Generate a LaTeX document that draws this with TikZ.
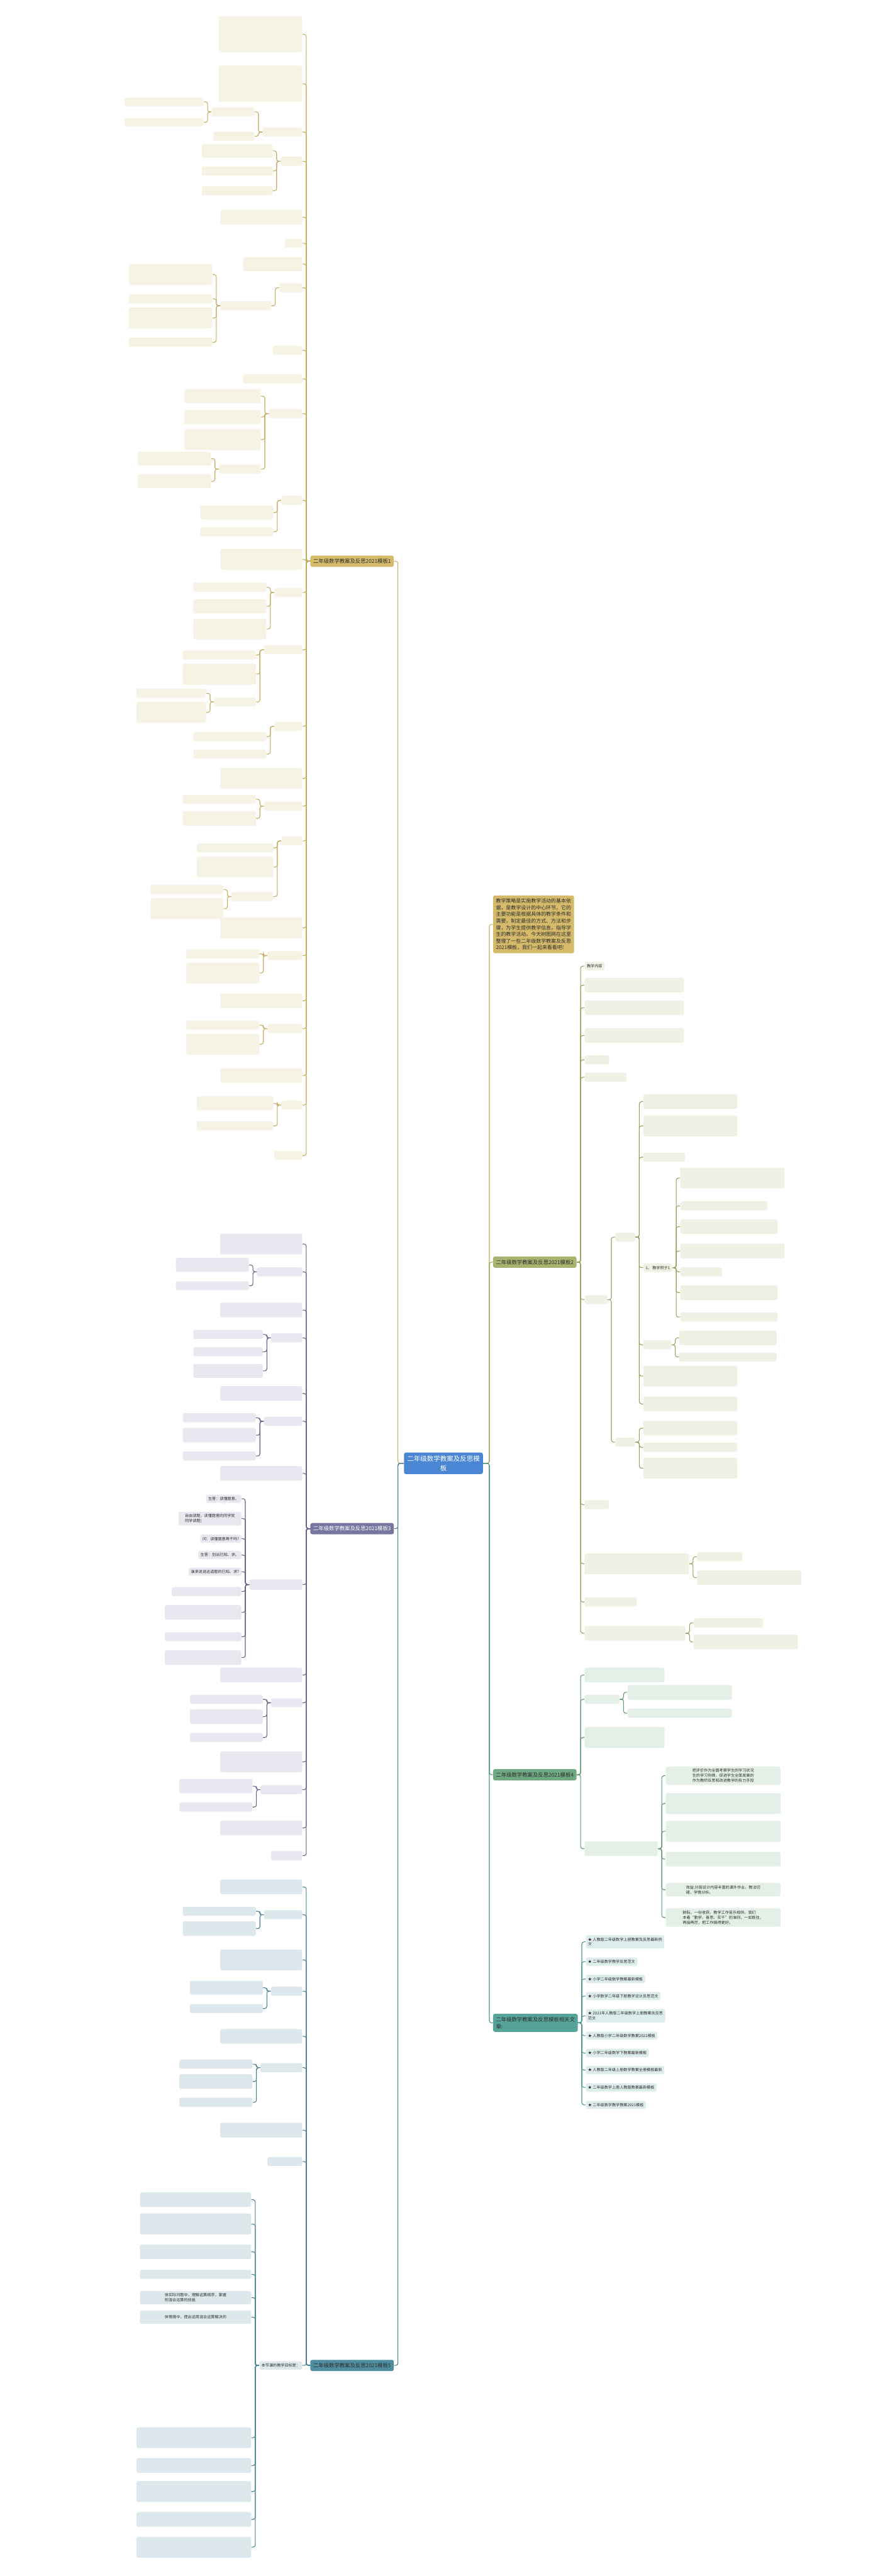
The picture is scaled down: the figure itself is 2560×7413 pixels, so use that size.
\documentclass[tikz,border=0pt]{standalone}
\usepackage{fontspec}
\setmainfont{Noto Sans CJK SC}
\XeTeXlinebreaklocale "zh"
\XeTeXlinebreakskip = 0pt plus 1pt
\definecolor{centre}{RGB}{74,134,212}
\definecolor{gold}{RGB}{212,186,106}
\definecolor{goldline}{RGB}{196,170,92}
\definecolor{goldleaf}{RGB}{247,243,228}
\definecolor{olive}{RGB}{169,178,110}
\definecolor{oliveline}{RGB}{150,160,92}
\definecolor{oliveleaf}{RGB}{239,241,228}
\definecolor{purp}{RGB}{118,118,160}
\definecolor{purpline}{RGB}{96,96,136}
\definecolor{purpleaf}{RGB}{232,232,240}
\definecolor{green4}{RGB}{111,168,131}
\definecolor{greenline}{RGB}{92,150,112}
\definecolor{greenleaf}{RGB}{227,239,231}
\definecolor{teal6}{RGB}{86,163,154}
\definecolor{tealline}{RGB}{72,150,140}
\definecolor{tealleaf}{RGB}{221,237,235}
\definecolor{blue5}{RGB}{79,142,160}
\definecolor{blueline}{RGB}{70,127,144}
\definecolor{blueleaf}{RGB}{221,232,236}
\definecolor{ink}{RGB}{45,45,45}
\tikzset{
  centrebox/.style={fill=centre, text=white, rounded corners=1.6pt, align=center,
    inner sep=2.6pt, font=\fontsize{5.4}{7.4}\selectfont},
  mainbox/.style={fill=#1, text=ink, rounded corners=1.6pt, inner xsep=2.4pt, inner ysep=2.6pt,
    align=left, font=\fontsize{4.3}{5.6}\selectfont},
  leaf/.style={fill=#1, text=ink, rounded corners=1.4pt, inner xsep=1.8pt, inner ysep=1.9pt,
    align=left, font=\fontsize{3.15}{4.1}\selectfont},
  link/.style={draw=#1, line width=0.55pt, rounded corners=1.8pt},
}
% boxes hung on the left / right of a parent: name, parent, colour, y, width, height
\newcommand\boxL[6]{%
  \node[leaf=#3leaf, anchor=east, xshift=-0.22cm, minimum width=#5*0.01cm, minimum height=#6*0.01cm] (#1) at (#2.west |- 0,#4) {};
  \draw[link=#3line] (#2.west) -- ++(-11,0) |- (#1.east);}
\newcommand\boxR[6]{%
  \node[leaf=#3leaf, anchor=west, xshift=0.22cm, minimum width=#5*0.01cm, minimum height=#6*0.01cm] (#1) at (#2.east |- 0,#4) {};
  \draw[link=#3line] (#2.east) -- ++(11,0) |- (#1.west);}
% the same with a text: [options], name, parent, colour, y, text
\newcommand\textL[6][]{%
  \node[leaf=#4leaf, anchor=east, xshift=-0.22cm, #1] (#2) at (#3.west |- 0,#5) {#6};
  \draw[link=#4line] (#3.west) -- ++(-11,0) |- (#2.east);}
\newcommand\textR[6][]{%
  \node[leaf=#4leaf, anchor=west, xshift=0.22cm, #1] (#2) at (#3.east |- 0,#5) {#6};
  \draw[link=#4line] (#3.east) -- ++(11,0) |- (#2.west);}
\begin{document}
\begin{tikzpicture}[x=0.01cm, y=-0.01cm]
  \fill[white] (0,0) rectangle (2560,7413);
  \useasboundingbox (0,0) rectangle (2560,7413);

  % centre
  \node[centrebox] (root) at (1276,4211) {二年级数学教案及反思模\\板};

  % left branches
  \node[mainbox=gold, anchor=east] (b1) at (1134,1615) {二年级数学教案及反思2021模板1};
  \node[mainbox=purp, text=white, anchor=east] (b3) at (1134,4399) {二年级数学教案及反思2021模板3};
  \node[mainbox=blue5, anchor=east] (b5) at (1134,6807) {二年级数学教案及反思2021模板5};
  \draw[link=goldline] (root.west) -- (1145,4211) |- (b1.east);
  \draw[link=purpline] (root.west) -- (1145,4211) |- (b3.east);
  \draw[link=blueline] (root.west) -- (1145,4211) |- (b5.east);

  % right branches
  \node[mainbox=gold, anchor=west, font=\fontsize{4.1}{5.45}\selectfont] (intro) at (1418,2660)
    {教学策略是实施教学活动的基本依\\据，是教学设计的中心环节。它的\\主要功能是根据具体的教学条件和\\需要，制定最佳的方式、方法和步\\骤，为学生提供教学信息，指导学\\生的教学活动。今天树图网在这里\\整理了一些二年级数学教案及反思\\2021模板，我们一起来看看吧!};
  \node[mainbox=olive, anchor=west] (b2) at (1418,3632) {二年级数学教案及反思2021模板2};
  \node[mainbox=green4, anchor=west] (b4) at (1418,5107) {二年级数学教案及反思2021模板4};
  \node[mainbox=teal6, anchor=west] (rel) at (1418,5821) {二年级数学教案及反思模板相关文\\章:};
  \draw[link=goldline] (root.east) -- (1408,4211) |- (intro.west);
  \draw[link=oliveline] (root.east) -- (1408,4211) |- (b2.west);
  \draw[link=greenline] (root.east) -- (1408,4211) |- (b4.west);
  \draw[link=tealline] (root.east) -- (1408,4211) |- (rel.west);

  % template 1
  \boxL{ga1}{b1}{gold}{99}{240}{104}
  \boxL{ga2}{b1}{gold}{241}{240}{104}
  \boxL{ga3}{b1}{gold}{380}{114}{26}
  \boxL{ga3a}{ga3}{gold}{322}{123}{26}
  \boxL{ga3a1}{ga3a}{gold}{293}{227}{24}
  \boxL{ga3a2}{ga3a}{gold}{352}{227}{24}
  \boxL{ga3b}{ga3}{gold}{392}{118}{26}
  \boxL{ga4}{b1}{gold}{464}{62}{26}
  \foreach \y/\w/\h [count=\k] in {434/203/40, 492/203/26, 549/203/26}{\boxL{ga4-\k}{ga4}{gold}{\y}{\w}{\h}}
  \boxL{ga5}{b1}{gold}{625}{236}{42}
  \boxL{ga6}{b1}{gold}{700}{50}{26}
  \boxL{ga7}{b1}{gold}{760}{170}{40}
  \boxL{ga8}{b1}{gold}{828}{66}{26}
  \boxL{ga8a}{ga8}{gold}{880}{146}{26}
  \foreach \y/\w/\h [count=\k] in {790/240/60, 860/240/26, 915/240/60, 985/240/26}{\boxL{ga8a-\k}{ga8a}{gold}{\y}{\w}{\h}}
  \boxL{ga9}{b1}{gold}{1008}{84}{26}
  \boxL{ga10}{b1}{gold}{1090}{170}{26}
  \boxL{ga11}{b1}{gold}{1190}{96}{26}
  \foreach \y/\w/\h [count=\k] in {1140/220/40, 1200/220/40, 1265/220/60}{\boxL{ga11-\k}{ga11}{gold}{\y}{\w}{\h}}
  \boxL{ga11d}{ga11}{gold}{1350}{120}{26}
  \foreach \y/\w/\h [count=\k] in {1320/210/40, 1385/210/40}{\boxL{ga11d-\k}{ga11d}{gold}{\y}{\w}{\h}}
  \boxL{ga12}{b1}{gold}{1440}{60}{26}
  \foreach \y/\w/\h [count=\k] in {1475/210/40, 1530/210/26}{\boxL{ga12-\k}{ga12}{gold}{\y}{\w}{\h}}
  \boxL{ga13}{b1}{gold}{1610}{236}{60}
  \boxL{ga14}{b1}{gold}{1705}{80}{26}
  \foreach \y/\w/\h [count=\k] in {1690/210/26, 1745/210/40, 1810/210/60}{\boxL{ga14-\k}{ga14}{gold}{\y}{\w}{\h}}
  \boxL{ga15}{b1}{gold}{1870}{110}{26}
  \foreach \y/\w/\h [count=\k] in {1885/210/26, 1940/210/60}{\boxL{ga15-\k}{ga15}{gold}{\y}{\w}{\h}}
  \boxL{ga15c}{ga15}{gold}{2020}{120}{26}
  \foreach \y/\w/\h [count=\k] in {1995/200/26, 2050/200/60}{\boxL{ga15c-\k}{ga15c}{gold}{\y}{\w}{\h}}
  \boxL{ga16}{b1}{gold}{2090}{80}{26}
  \foreach \y/\w/\h [count=\k] in {2120/210/26, 2170/210/26}{\boxL{ga16-\k}{ga16}{gold}{\y}{\w}{\h}}
  \boxL{ga17}{b1}{gold}{2240}{236}{60}
  \boxL{ga18}{b1}{gold}{2320}{110}{26}
  \foreach \y/\w/\h [count=\k] in {2300/210/26, 2355/210/42}{\boxL{ga18-\k}{ga18}{gold}{\y}{\w}{\h}}
  \boxL{ga19}{b1}{gold}{2420}{60}{26}
  \foreach \y/\w/\h [count=\k] in {2440/220/26, 2495/220/60}{\boxL{ga19-\k}{ga19}{gold}{\y}{\w}{\h}}
  \boxL{ga19c}{ga19}{gold}{2580}{120}{26}
  \foreach \y/\w/\h [count=\k] in {2560/210/26, 2615/210/60}{\boxL{ga19c-\k}{ga19c}{gold}{\y}{\w}{\h}}
  \boxL{ga20}{b1}{gold}{2670}{236}{60}
  \boxL{ga21}{b1}{gold}{2750}{100}{26}
  \foreach \y/\w/\h [count=\k] in {2745/210/26, 2800/210/60}{\boxL{ga21-\k}{ga21}{gold}{\y}{\w}{\h}}
  \boxL{ga22}{b1}{gold}{2880}{236}{42}
  \boxL{ga23}{b1}{gold}{2960}{100}{26}
  \foreach \y/\w/\h [count=\k] in {2950/210/26, 3005/210/60}{\boxL{ga23-\k}{ga23}{gold}{\y}{\w}{\h}}
  \boxL{ga24}{b1}{gold}{3095}{236}{42}
  \boxL{ga25}{b1}{gold}{3180}{60}{26}
  \foreach \y/\w/\h [count=\k] in {3175/220/40, 3240/220/26}{\boxL{ga25-\k}{ga25}{gold}{\y}{\w}{\h}}
  \boxL{ga26}{b1}{gold}{3325}{80}{26}

  % template 3
  \boxL{pa1}{b3}{purp}{3580}{236}{60}
  \boxL{pa2}{b3}{purp}{3660}{130}{26}
  \foreach \y/\w/\h [count=\k] in {3640/210/40, 3700/210/26}{\boxL{pa2-\k}{pa2}{purp}{\y}{\w}{\h}}
  \boxL{pa3}{b3}{purp}{3770}{236}{42}
  \boxL{pa4}{b3}{purp}{3850}{90}{26}
  \foreach \y/\w/\h [count=\k] in {3840/200/26, 3890/200/26, 3945/200/40}{\boxL{pa4-\k}{pa4}{purp}{\y}{\w}{\h}}
  \boxL{pa5}{b3}{purp}{4010}{236}{42}
  \boxL{pa6}{b3}{purp}{4090}{110}{26}
  \foreach \y/\w/\h [count=\k] in {4080/210/26, 4130/210/42, 4190/210/26}{\boxL{pa6-\k}{pa6}{purp}{\y}{\w}{\h}}
  \boxL{pa7}{b3}{purp}{4240}{236}{42}
  \boxL{pa8}{b3}{purp}{4560}{152}{30}
  \textL{pa8-1}{pa8}{purp}{4313}{生答：读懂题意。}
  \textL[minimum width=180*0.01cm]{pa8-2}{pa8}{purp}{4370}{自由读题，读懂题意的同学就\\同学读题)}
  \textL{pa8-3}{pa8}{purp}{4428}{问：读懂题意再干吗?}
  \textL{pa8-4}{pa8}{purp}{4475}{生答：划出已知、求。}
  \textL{pa8-5}{pa8}{purp}{4523}{谁来说说这道题的已知、求?}
  \foreach \y/\w/\h [count=\k] in {4580/200/26, 4640/220/42, 4710/220/26, 4770/220/42}{\boxL{pa8-x\k}{pa8}{purp}{\y}{\w}{\h}}
  \boxL{pa9}{b3}{purp}{4820}{236}{42}
  \boxL{pa10}{b3}{purp}{4900}{90}{26}
  \foreach \y/\w/\h [count=\k] in {4890/210/26, 4940/210/42, 5000/210/26}{\boxL{pa10-\k}{pa10}{purp}{\y}{\w}{\h}}
  \boxL{pa11}{b3}{purp}{5070}{236}{60}
  \boxL{pa12}{b3}{purp}{5150}{120}{26}
  \foreach \y/\w/\h [count=\k] in {5140/210/42, 5200/210/26}{\boxL{pa12-\k}{pa12}{purp}{\y}{\w}{\h}}
  \boxL{pa13}{b3}{purp}{5260}{236}{42}
  \boxL{pa14}{b3}{purp}{5340}{90}{26}

  % template 5
  \boxL{ba1}{b5}{blue}{5430}{236}{42}
  \boxL{ba2}{b5}{blue}{5510}{110}{26}
  \foreach \y/\w/\h [count=\k] in {5500/210/26, 5550/210/42}{\boxL{ba2-\k}{ba2}{blue}{\y}{\w}{\h}}
  \boxL{ba3}{b5}{blue}{5640}{236}{60}
  \boxL{ba4}{b5}{blue}{5730}{90}{26}
  \foreach \y/\w/\h [count=\k] in {5720/210/40, 5780/210/26}{\boxL{ba4-\k}{ba4}{blue}{\y}{\w}{\h}}
  \boxL{ba5}{b5}{blue}{5860}{236}{42}
  \boxL{ba6}{b5}{blue}{5950}{120}{26}
  \foreach \y/\w/\h [count=\k] in {5940/210/26, 5990/210/42, 6050/210/26}{\boxL{ba6-\k}{ba6}{blue}{\y}{\w}{\h}}
  \boxL{ba7}{b5}{blue}{6130}{236}{42}
  \boxL{ba8}{b5}{blue}{6220}{100}{26}
  \textL{ba9}{b5}{blue}{6807}{本节课的教学目标是：}
  \foreach \y/\w/\h [count=\k] in {6330/320/42, 6400/320/60, 6480/320/42, 6545/320/26}{\boxL{ba9-\k}{ba9}{blue}{\y}{\w}{\h}}
  \textL[minimum width=320*0.01cm]{ba9-5}{ba9}{blue}{6612}{体实际问题中，理解运算顺序，掌握\\则混合运算的技能}
  \textL[minimum width=320*0.01cm, minimum height=39*0.01cm]{ba9-6}{ba9}{blue}{6668}{体情境中，提出运用混合运算解决的}
  \foreach \y/\w/\h [count=\k] in {7015/330/60, 7095/330/42, 7170/330/60, 7250/330/42, 7330/330/60}{\boxL{ba9-x\k}{ba9}{blue}{\y}{\w}{\h}}

  % template 2
  \textR{oa1}{b2}{olive}{2780}{教学内容}
  \boxR{oa2}{b2}{olive}{2835}{285}{42}
  \boxR{oa3}{b2}{olive}{2900}{285}{42}
  \boxR{oa4}{b2}{olive}{2980}{285}{42}
  \boxR{oa5}{b2}{olive}{3050}{70}{26}
  \boxR{oa6}{b2}{olive}{3100}{120}{26}
  \boxR{oa7}{b2}{olive}{3740}{65}{26}
  \boxR{ob1}{oa7}{olive}{3560}{57}{26}
  \boxR{oc1}{ob1}{olive}{3170}{270}{42}
  \boxR{oc2}{ob1}{olive}{3240}{270}{60}
  \boxR{oc3}{ob1}{olive}{3330}{120}{26}
  \textR{oc4}{ob1}{olive}{3648}{1、 教学例子1}
  \foreach \y/\w/\h [count=\k] in {3390/300/60, 3470/250/26, 3530/280/42, 3600/300/42, 3660/120/26, 3720/280/42, 3790/280/26}{\boxR{oc4-\k}{oc4}{olive}{\y}{\w}{\h}}
  \boxR{oc5}{ob1}{olive}{3870}{80}{26}
  \foreach \y/\w/\h [count=\k] in {3850/280/42, 3905/280/26}{\boxR{oc5-\k}{oc5}{olive}{\y}{\w}{\h}}
  \boxR{oc6}{ob1}{olive}{3960}{270}{60}
  \boxR{oc7}{ob1}{olive}{4040}{270}{42}
  \boxR{ob2}{oa7}{olive}{4150}{57}{26}
  \foreach \y/\w/\h [count=\k] in {4110/270/42, 4165/270/26, 4225/270/60}{\boxR{ob2-\k}{ob2}{olive}{\y}{\w}{\h}}
  \boxR{oa8}{b2}{olive}{4330}{70}{26}
  \boxR{oa9}{b2}{olive}{4500}{300}{60}
  \foreach \y/\w/\h [count=\k] in {4480/130/26, 4540/300/42}{\boxR{oa9-\k}{oa9}{olive}{\y}{\w}{\h}}
  \boxR{oa10}{b2}{olive}{4610}{150}{26}
  \boxR{oa11}{b2}{olive}{4700}{290}{42}
  \foreach \y/\w/\h [count=\k] in {4670/200/26, 4725/300/42}{\boxR{oa11-\k}{oa11}{olive}{\y}{\w}{\h}}

  % template 4
  \boxR{gr1}{b4}{green}{4820}{230}{42}
  \boxR{gr2}{b4}{green}{4890}{100}{26}
  \foreach \y/\w/\h [count=\k] in {4870/300/42, 4930/300/26}{\boxR{gr2-\k}{gr2}{green}{\y}{\w}{\h}}
  \boxR{gr3}{b4}{green}{5000}{230}{60}
  \boxR{gr4}{b4}{green}{5320}{210}{42}
  \textR[minimum width=330*0.01cm]{gr4-1}{gr4}{green}{5110}{把评价作为全面考察学生的学习状况\\生的学习热情，促进学生全面发展的\\作为教师反思和改进教学的有力手段}
  \foreach \y/\w/\h [count=\k] in {5190/330/60, 5270/330/60, 5350/330/42}{\boxR{gr4-x\k}{gr4}{green}{\y}{\w}{\h}}
  \textR[minimum width=330*0.01cm]{gr4-2}{gr4}{green}{5438}{效益;分层设计内容丰富的课外作业，教法切\\磋，学情分析。}
  \textR[minimum width=330*0.01cm]{gr4-3}{gr4}{green}{5518}{耕耘，一份收获。教学工作苦乐相伴。我们\\本着“勤学、善思、实干”的准则，一如既往，\\再接再厉，把工作搞得更好。}

  % related articles
  \foreach \i/\y/\t in {1/5588/{★ 人教版二年级数学上册教案及反思最新例\\文},
                        2/5645/{★ 二年级数学教学反思范文},
                        3/5695/{★ 小学二年级数学教案最新模板},
                        4/5744/{★ 小学数学二年级下册教学设计反思范文},
                        5/5801/{★ 2021年人教版二年级数学上册教案含反思\\范文},
                        6/5858/{★ 人教版小学二年级数学教案2021模板},
                        7/5908/{★ 小学二年级数学下教案最新模板},
                        8/5957/{★ 人教版二年级上册数学教案全册模板最新},
                        9/6007/{★ 二年级数学上册人教版教案最新模板},
                        10/6057/{★ 二年级数学教学教案2021模板}}{
    \textR{rel\i}{rel}{teal}{\y}{\t}
  }
\end{tikzpicture}
\end{document}
